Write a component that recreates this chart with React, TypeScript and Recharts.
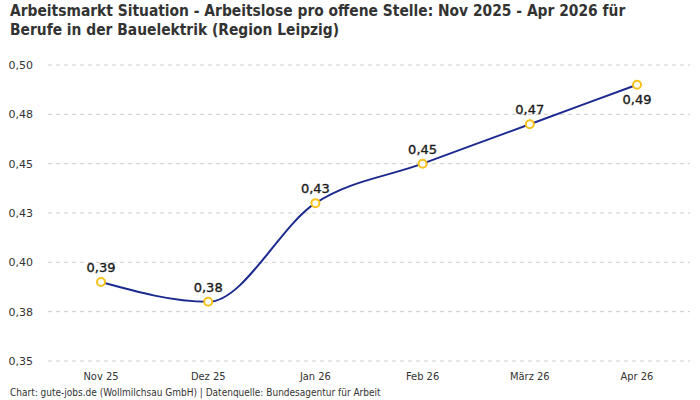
import React from "react";
import { LineChart, Line, XAxis, YAxis, CartesianGrid, LabelList } from "recharts";

const months = ["Nov 25", "Dez 25", "Jan 26", "Feb 26", "März 26", "Apr 26"];
const values = [0.39, 0.38, 0.43, 0.45, 0.47, 0.49];
const yTicks = [0.35, 0.375, 0.4, 0.425, 0.45, 0.475, 0.5];

const data = months.map((m, i) => ({ month: m, value: values[i] }));

const fmt = new Intl.NumberFormat("de-DE", { minimumFractionDigits: 2, maximumFractionDigits: 2 });

const condensed = '"DejaVu Sans Condensed", "Liberation Sans Narrow", sans-serif';
const regular = '"DejaVu Sans", "Noto Sans", sans-serif';

const renderLabel = (props: any) => {
  const { x, y, value, index } = props;
  const below = index === values.length - 1;
  return (
    <text
      x={x}
      y={below ? y + 19 : y - 10}
      textAnchor="middle"
      fontFamily={regular}
      fontSize={13}
      fontWeight={400}
      fill="#1a1a1a"
      stroke="#1a1a1a"
      strokeWidth={0.35}
    >
      {fmt.format(value)}
    </text>
  );
};

export default function App() {
  return (
    <div style={{ position: "absolute", left: 0, top: 0, width: 700, height: 400, background: "#fff", fontFamily: condensed }}>
      <div
        style={{
          position: "absolute",
          left: 10,
          top: 2,
          fontFamily: condensed,
          fontWeight: 700,
          fontSize: 15.4,
          lineHeight: "19px",
          color: "#333",
          whiteSpace: "nowrap",
        }}
      >
        Arbeitsmarkt Situation - Arbeitslose pro offene Stelle: Nov 2025 - Apr 2026 für
        <br />
        Berufe in der Bauelektrik (Region Leipzig)
      </div>
      <div style={{ position: "absolute", left: 0, top: 0 }}>
        <LineChart width={700} height={400} data={data} margin={{ top: 65, right: 10, bottom: 9, left: 8 }}>
          <CartesianGrid vertical={false} stroke="#cccccc" strokeDasharray="4 4" />
          <XAxis
            dataKey="month"
            axisLine={false}
            tickLine={false}
            tickSize={0}
            tickMargin={11}
            height={30}
            padding={{ left: 53, right: 53 }}
            tick={{ fontFamily: condensed, fontSize: 11, fill: "#333" }}
            interval={0}
          />
          <YAxis
            domain={[0.35, 0.5]}
            ticks={yTicks}
            axisLine={false}
            tickLine={false}
            tickSize={0}
            tickMargin={15}
            width={40}
            tickFormatter={(v: number) => fmt.format(v)}
            tick={{ fontFamily: regular, fontSize: 11, fill: "#333" }}
          />
          <Line
            type="monotone"
            dataKey="value"
            stroke="#1b2a8f"
            strokeWidth={2}
            dot={{ r: 4, fill: "#fff", stroke: "#f7c21b", strokeWidth: 2 }}
            isAnimationActive={false}
          >
            <LabelList dataKey="value" content={renderLabel} />
          </Line>
        </LineChart>
      </div>
      <div
        style={{
          position: "absolute",
          left: 10,
          top: 387,
          fontFamily: condensed,
          fontSize: 10,
          color: "#333",
          whiteSpace: "nowrap",
        }}
      >
        Chart: gute-jobs.de (Wollmilchsau GmbH) | Datenquelle: Bundesagentur für Arbeit
      </div>
    </div>
  );
}
